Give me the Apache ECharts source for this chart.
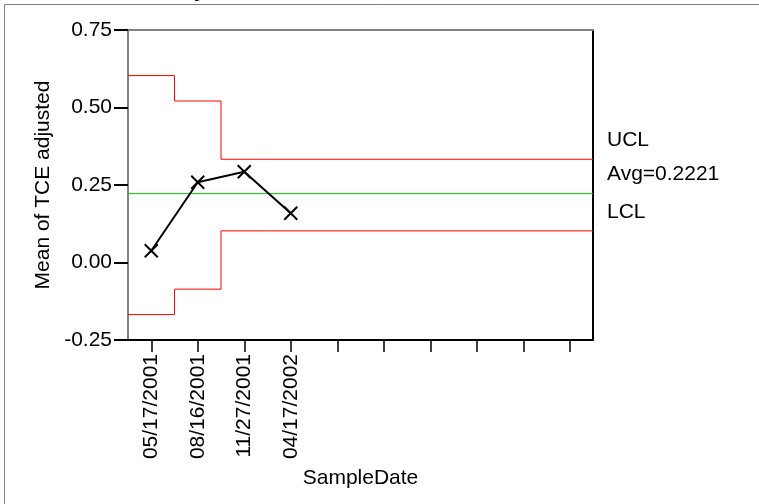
<!DOCTYPE html>
<html>
<head>
<meta charset="utf-8">
<script src="https://cdn.jsdelivr.net/npm/echarts@6/dist/echarts.min.js"></script>
<style>html,body{margin:0;padding:0;background:#fff}#c{width:759px;height:504px}</style>
</head>
<body>
<div id="c"></div>
<script>
// ---- data ----
var sampleDates = ['05/17/2001', '08/16/2001', '11/27/2001', '04/17/2002', '', '', '', '', '', ''];
var meanValues = [0.038, 0.259, 0.293, 0.159];
var uclValues = [0.603, 0.521, 0.333, 0.333];
var lclValues = [-0.168, -0.086, 0.102, 0.102];
var avgValue = 0.2221;
var yTicks = { min: -0.25, max: 0.75, interval: 0.25 };
var yTitle = 'Mean of TCE adjusted';
var xTitle = 'SampleDate';

// build step lines for limits (category index space)
var nCat = sampleDates.length;
function steps(vals) {
  var out = [];
  for (var i = 0; i < vals.length; i++) {
    out.push([i - 0.5, vals[i]]);
    out.push([i + 0.5, vals[i]]);
  }
  out.push([nCat - 0.5, vals[vals.length - 1]]);
  return out;
}
var avgLine = [[-0.5, avgValue], [nCat - 0.5, avgValue]];

var FONT = 'Liberation Sans, Arial, sans-serif';
var FS = 21;
var chart = echarts.init(document.getElementById('c'), null, { renderer: 'canvas' });
var endLab = function (txt) {
  return { show: true, formatter: txt, color: '#000', fontFamily: FONT, fontSize: FS, offset: [6, -19] };
};
chart.setOption({
  animation: false,
  backgroundColor: '#fff',
  grid: { left: 128, top: 30, right: 166, bottom: 164, show: false },
  xAxis: [{
    type: 'category',
    data: sampleDates,
    boundaryGap: true,
    position: 'bottom',
    axisLine: { show: true, onZero: false, lineStyle: { color: '#000', width: 2 } },
    axisTick: { show: true, alignWithLabel: true, interval: 0, length: 12, lineStyle: { color: '#000', width: 1.5 } },
    axisLabel: { interval: 0, rotate: 90, margin: 14, color: '#000', fontFamily: FONT, fontSize: FS },
    splitLine: { show: false },
    name: xTitle, nameLocation: 'middle', nameGap: 128,
    nameTextStyle: { color: '#000', fontFamily: FONT, fontSize: FS }
  }, {
    type: 'value',
    min: -0.5, max: nCat - 0.5,
    position: 'top',
    axisLine: { show: true, onZero: false, lineStyle: { color: '#808080', width: 2 } },
    axisTick: { show: false }, axisLabel: { show: false }, splitLine: { show: false }
  }],
  yAxis: [{
    type: 'value',
    min: yTicks.min, max: yTicks.max, interval: yTicks.interval,
    position: 'left',
    axisLine: { show: true, onZero: false, lineStyle: { color: '#808080', width: 2 } },
    axisTick: { show: true, length: 14, lineStyle: { color: '#000', width: 2 } },
    axisLabel: { margin: 16, color: '#000', fontFamily: FONT, fontSize: FS, formatter: function (v) { return v.toFixed(2); } },
    splitLine: { show: false },
    name: yTitle, nameLocation: 'middle', nameGap: 69, nameRotate: 90,
    nameTextStyle: { color: '#000', fontFamily: FONT, fontSize: FS }
  }, {
    type: 'value',
    min: yTicks.min, max: yTicks.max, interval: yTicks.interval,
    position: 'right',
    axisLine: { show: true, onZero: false, lineStyle: { color: '#000', width: 2 } },
    axisTick: { show: false }, axisLabel: { show: false }, splitLine: { show: false }
  }],
  series: [
    { type: 'line', xAxisIndex: 1, yAxisIndex: 0, data: steps(uclValues), symbol: 'none', silent: true,
      lineStyle: { color: '#ff0000', width: 1 }, endLabel: endLab('UCL') },
    { type: 'line', xAxisIndex: 1, yAxisIndex: 0, data: avgLine, symbol: 'none', silent: true,
      lineStyle: { color: '#00c800', width: 1 }, endLabel: endLab('Avg=' + avgValue.toFixed(4)) },
    { type: 'line', xAxisIndex: 1, yAxisIndex: 0, data: steps(lclValues), symbol: 'none', silent: true,
      lineStyle: { color: '#ff0000', width: 1 }, endLabel: endLab('LCL') },
    { type: 'line', xAxisIndex: 0, yAxisIndex: 0, data: meanValues,
      symbol: 'path://M0,0L10,10M10,0L0,10', symbolSize: 13,
      itemStyle: { color: 'rgba(0,0,0,0)', borderColor: '#000', borderWidth: 2 },
      lineStyle: { color: '#000', width: 2 }, z: 5 }
  ],
  graphic: [
    { type: 'text', left: 194, top: -19, style: { text: 'y', font: 'bold 21px ' + FONT, fill: '#000' }, z: 1 },
    { type: 'line', shape: { x1: 4.5, y1: 4.5, x2: 759, y2: 4.5 }, style: { stroke: '#808080', lineWidth: 1 }, z: 10 },
    { type: 'line', shape: { x1: 4.5, y1: 4.5, x2: 4.5, y2: 504 }, style: { stroke: '#808080', lineWidth: 1 }, z: 10 }
  ]
});
</script>
</body>
</html>
